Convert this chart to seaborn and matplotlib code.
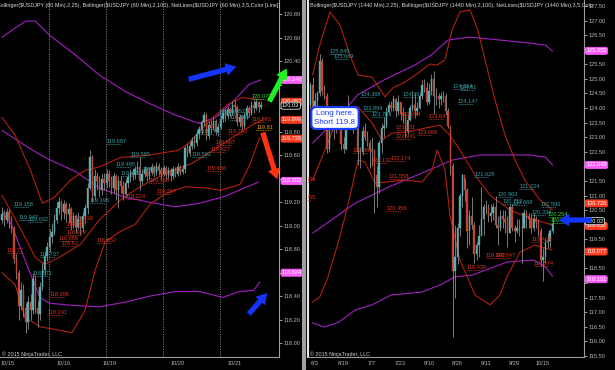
import numpy as np
import pandas as pd
import matplotlib
matplotlib.use("Agg")
import matplotlib.pyplot as plt
import seaborn as sns
from matplotlib.patches import FancyArrowPatch, Rectangle
from matplotlib.transforms import IdentityTransform

sns.set_theme(style="dark")
plt.rcParams['font.family'] = ['Liberation Sans', 'DejaVu Sans']

# ---------------- LEFT PANEL (60 min) ----------------
L_first_open = 119.05
L_close = [119.10,119.05,119.12,119.06,118.98,118.72,118.60,118.32,118.45,118.30,
           118.18,118.35,118.28,118.55,118.30,118.25,118.48,118.62,118.74,118.82,
           118.90,118.95,119.05,119.15,119.20,119.12,119.18,119.10,119.14,119.02,
           119.08,118.99,119.06,118.98,119.08,119.15,119.32,119.58,119.25,119.42,
           119.38,119.30,119.40,119.36,119.44,119.38,119.32,119.42,119.30,119.38,
           119.34,119.27,119.36,119.41,119.45,119.43,119.48,119.50,119.38,119.44,
           119.48,119.42,119.46,119.50,119.45,119.51,119.47,119.44,119.49,119.43,
           119.47,119.42,119.48,119.44,119.50,119.46,119.48,119.66,119.62,119.68,
           119.72,119.70,119.78,119.82,119.88,119.94,119.76,119.86,119.83,119.89,
           119.80,119.84,119.91,119.96,119.93,119.99,119.96,120.03,120.01,119.88,
           119.92,119.85,119.94,120.00,119.96,120.03,120.00,120.05,120.01,120.03]
L_high = [119.16,119.13,119.15,119.14,119.08,119.00,118.76,118.62,118.52,118.50,
          118.34,118.40,118.42,118.60,118.58,118.36,118.52,118.68,118.78,118.86,
          118.97,119.02,119.10,119.20,119.24,119.22,119.22,119.20,119.19,119.16,
          119.12,119.10,119.12,119.08,119.12,119.18,119.36,119.64,119.60,119.48,
          119.46,119.42,119.44,119.45,119.48,119.47,119.42,119.46,119.44,119.42,
          119.42,119.38,119.40,119.44,119.48,119.49,119.51,119.55,119.58,119.48,
          119.51,119.50,119.50,119.53,119.52,119.54,119.53,119.50,119.52,119.51,
          119.50,119.49,119.51,119.50,119.53,119.52,119.52,119.68,119.70,119.71,
          119.75,119.76,119.81,119.85,119.90,119.97,119.96,119.89,119.90,119.92,
          119.91,119.87,119.94,119.99,119.99,120.02,120.01,120.06,120.07,120.03,
          119.95,119.94,119.97,120.03,120.02,120.06,120.07,120.08,120.06,120.06]
L_low = [119.02,119.00,119.02,118.98,118.94,118.68,118.55,118.20,118.28,118.22,
         118.09,118.12,118.20,118.25,118.26,118.14,118.20,118.45,118.58,118.70,
         118.78,118.85,118.92,119.02,119.10,119.05,119.06,119.03,119.02,118.96,
         118.98,118.94,118.97,118.92,118.95,119.02,119.10,119.30,119.20,119.22,
         119.30,119.24,119.26,119.30,119.32,119.33,119.27,119.28,119.22,119.15,
         119.28,119.22,119.25,119.32,119.37,119.39,119.40,119.44,119.30,119.35,
         119.41,119.38,119.39,119.43,119.41,119.43,119.43,119.40,119.42,119.39,
         119.40,119.38,119.40,119.41,119.42,119.43,119.44,119.45,119.58,119.59,
         119.65,119.66,119.68,119.74,119.78,119.85,119.73,119.74,119.79,119.81,
         119.77,119.76,119.82,119.88,119.89,119.91,119.92,119.94,119.97,119.85,
         119.84,119.82,119.83,119.91,119.92,119.94,119.96,119.98,119.97,119.99]

# Bollinger(25) red, Bollinger(100) purple  -- (bar index, value)
L_red_up_x = [0,5.5,12,17,22,29,35,41,50,62,74,78,83,89,95,101,109]
L_red_up_y = [119.92,119.77,119.47,119.19,119.24,119.39,119.47,119.50,119.58,119.60,119.64,119.69,119.80,119.92,120.03,120.09,120.07]
L_red_mid_x = [0,7.6,14,18,24,33,41,50,58,69.5,80,90.5,97,105.7,109.9]
L_red_mid_y = [119.26,118.98,118.73,118.67,118.73,118.84,119.05,119.22,119.33,119.45,119.53,119.66,119.75,119.86,119.90]
L_red_lo_x = [0,5.5,9.7,16,24.4,29.5,35,39.2,43.4,49.7,56,62.3,68.6,77,86.3,91.8,100.2,104.4,107.4,108.6]
L_red_lo_y = [118.60,118.50,118.22,118.14,118.11,118.09,118.28,118.62,118.86,118.95,119.01,119.18,119.27,119.33,119.32,119.30,119.35,119.52,119.69,119.75]
L_pur_up_x = [0,4,10,14,20,31,41,52,62,73,83,90,98,104,109]
L_pur_up_y = [120.60,120.66,120.74,120.74,120.62,120.45,120.28,120.14,120.04,119.94,119.87,119.92,120.07,120.20,120.24]
L_pur_mid_x = [0,13,20,31,41,52,62,73,83,94,102,108]
L_pur_mid_y = [119.81,119.64,119.56,119.46,119.32,119.24,119.20,119.16,119.19,119.25,119.32,119.37]
L_pur_lo_x = [0,4,10,16,20,31,41,52,62,73,83,93,100,106,108.5]
L_pur_lo_y = [119.12,119.01,118.69,118.39,118.34,118.32,118.31,118.35,118.40,118.44,118.44,118.39,118.44,118.45,118.52]

L_session_lines = [19.8, 43.8, 67.8, 91.8]
L_xtick_pos = [2.4, 26, 45.5, 74, 98]
L_xtick_lab = ['10/15', '10/16', '10/19', '10/20', '10/21']

# NetLines labels (value, starting bar)
L_teal = [(119.697,44),(119.585,54),(119.495,48),(119.46,59),(119.422,50),(119.158,5),
          (119.047,7),(119.032,11),(118.737,16),(118.571,13),(119.196,37),(119.776,83),
          (119.582,80),(119.952,94),(119.937,91),(119.895,96)]
L_red = [(118.77,2),(119.038,30),(118.988,27),(118.923,27),(118.866,24),(118.83,25),
         (118.852,40),(118.396,20),(118.241,19),(119.224,52),(119.365,62),(119.267,65),
         (119.466,86),(119.687,90),(119.627,88),(119.783,95),(119.883,105)]
L_green = [(120.073,105)]
L_orange = [(119.81,107)]

L_tags = ['120.240','120.057','120.03','119.996','119.738','119.302','118.624']
L_tag_lvl = [120.24,120.054,120.02,119.90,119.74,119.38,118.60]
L_tag_col = ['#ff5cff','#ff3b1f','#000000','#ff3b1f','#ff3b1f','#ff5cff','#ff5cff']

# ---------------- RIGHT PANEL (1440 min) ----------------
R_dates = pd.bdate_range('2015-06-01', '2015-10-21')
R_first_open = 124.10
R_close = [124.80,124.00,124.25,124.50,125.60,124.60,124.40,122.60,123.45,123.35,
           123.40,123.40,123.75,122.75,122.60,123.90,123.80,123.70,123.80,123.90,
           122.50,122.50,123.20,123.00,122.80,122.55,122.55,121.70,121.30,122.80,
           123.30,123.40,123.85,124.10,124.00,124.30,123.90,124.20,123.80,123.80,
           123.20,123.60,124.00,124.10,123.90,124.00,124.40,124.80,124.70,124.20,
           124.60,125.00,124.40,124.40,124.30,124.40,124.40,123.90,123.40,122.00,
           118.40,118.90,119.90,121.00,121.70,121.20,119.80,120.30,120.00,119.00,
           119.30,119.60,120.20,120.60,120.60,120.30,120.40,120.60,120.00,119.90,
           120.30,120.20,120.10,119.70,120.60,119.90,119.80,119.90,119.90,119.90,
           120.40,120.30,120.20,119.90,120.20,120.10,119.80,118.80,118.90,119.40,
           119.45,119.80,120.03]
R_high = [124.90,125.05,124.50,124.60,125.86,125.70,124.80,124.50,123.80,123.70,
          123.55,123.70,124.05,123.80,123.00,124.05,124.45,124.00,123.90,124.00,
          123.95,122.65,123.40,123.50,123.20,122.90,123.00,122.60,122.00,122.90,
          123.50,123.70,124.05,124.20,124.25,124.45,124.35,124.45,124.20,124.05,
          123.85,123.75,124.10,124.60,124.50,124.20,124.50,124.95,125.00,124.90,
          124.85,125.15,125.28,124.70,124.50,124.55,124.60,124.50,124.00,123.40,
          122.10,120.00,120.05,121.10,121.75,121.60,121.25,120.50,120.95,120.10,
          119.40,120.00,121.30,120.70,120.85,120.70,120.70,120.75,121.00,120.30,
          120.50,120.50,120.50,120.30,120.70,120.70,120.00,120.20,120.20,120.45,
          120.55,120.50,120.40,120.40,120.40,120.30,120.20,119.90,119.20,119.50,
          119.70,119.85,120.25]
R_low = [124.00,123.75,123.85,123.95,124.40,124.45,124.30,122.45,122.50,123.20,
         122.95,123.15,123.30,122.55,122.45,122.55,123.60,123.40,123.15,123.45,
         122.05,121.95,122.40,122.90,122.70,121.95,122.00,120.41,120.60,121.10,
         122.45,123.00,123.30,123.80,123.90,123.90,123.70,123.75,123.60,123.50,
         123.00,123.10,123.55,123.90,123.65,123.75,123.95,124.30,124.55,124.10,
         124.15,124.45,123.80,124.10,124.00,124.10,124.20,123.75,123.30,121.70,
         116.15,117.50,118.65,119.60,120.60,120.80,119.20,119.30,119.85,118.70,
         118.80,118.90,119.80,119.65,120.35,120.10,120.10,120.15,119.90,119.30,
         119.80,119.90,119.70,119.25,119.70,119.80,119.40,119.70,119.60,118.70,
         119.90,119.90,119.90,119.70,119.80,119.90,119.60,118.60,118.07,118.70,
         119.20,119.20,119.70]

R_red_up_x = [1,4,8.3,12.5,16.7,20.1,26,31.5,34.8,39.9,45.4,50.4,53.4,56.7,59.7,63,67.3,70.6,73.6,77.8,82,86.2,90.4,96.7,102]
R_red_up_y = [125.13,126.16,127.29,126.85,125.82,125.13,125.06,124.38,124.69,124.89,125.20,125.51,125.47,125.65,126.67,127.29,127.36,126.67,125.65,124.27,123.07,122.22,121.53,120.85,120.50]
R_red_mid_x = [1,6.2,11.7,20.1,26,30.2,34.4,41.2,48.3,54.6,58.8,63,69.4,75.7,84.1,92.5,101.8]
R_red_mid_y = [121.53,122.56,123.69,124.04,123.49,122.90,123.14,123.18,123.31,123.41,123.07,122.56,121.70,121.01,120.50,120.23,119.99]
R_red_lo_x = [1,4,7.5,11.7,14.6,17.6,20.1,23,27.3,31.5,39.9,47,51.3,53.4,56.7,58.8,63,69.4,75.7,79.9,82.8,88.3,94.6,101.8]
R_red_lo_y = [117.35,117.52,118.21,119.37,120.26,121.29,122.22,122.15,121.43,121.46,121.53,121.46,121.87,122.56,121.90,120.33,118.79,117.59,117.25,117.59,118.21,119.06,119.30,119.13]
R_pur_up_x = [1,12,20,31,44,51,58,67,80,92,99,102]
R_pur_up_y = [122.80,123.69,124.45,124.96,125.47,125.82,126.33,126.43,126.33,126.23,126.16,125.95]
R_pur_mid_x = [1,19,33,47,60,71.5,82,92.5,99,102]
R_pur_mid_y = [119.71,120.74,121.29,121.77,122.22,122.39,122.39,122.39,122.32,122.05]
R_pur_lo_x = [1,6,12,19,26,34,47,54.6,61,68.5,82.9,94,99,102]
R_pur_lo_y = [116.63,116.49,116.66,117.08,117.25,117.59,117.69,117.93,118.21,118.28,118.72,118.79,118.55,118.24]

R_xtick_dates = ['2015-06-03','2015-06-19','2015-07-07','2015-07-23','2015-08-10',
                 '2015-08-26','2015-09-11','2015-09-29','2015-10-15']
R_xtick_lab = ['6/3','6/19','7/7','7/23','8/10','8/26','9/11','9/29','10/15']

R_teal = [(125.845,8),(125.689,10),(124.368,21),(123.899,22),(123.703,26),(124.367,39),
          (124.654,60),(124.610,63),(124.147,62),(121.628,69),(121.224,88),(120.963,79),
          (120.712,81),(120.668,85),(120.596,97),(120.338,93)]
R_red = [(123.694,38),(123.64,50),(123.231,36),(122.941,36),(123.066,45),(122.466,18),
         (122.174,34),(122.132,26),(121.558,33),(120.456,32),(119.404,93),(118.842,74),
         (118.847,78),(118.439,66),(118.574,94),(121.466,-6),(120.855,-6)]
R_green = [(120.254,100),(120.069,101)]

R_tags = ['125.955','122.048','120.726','119.952','120.02','119.077','118.131']
R_tag_lvl = [125.96,122.05,120.73,119.96,120.12,119.08,118.13]
R_tag_col = ['#ff5cff','#ff5cff','#ff3b1f','#ff3b1f','#000000','#ff3b1f','#ff5cff']

# ---------------- drawing ----------------
W, H = 615, 370
fig = plt.figure(figsize=(W/100, H/100), dpi=100, facecolor='black')

UP = '#58b0b4'
DN = '#c2452f'
WICK = '#8c8c8c'
RED = '#b3200f'
PUR = '#a31fc0'
TEAL = '#3a9fa3'
LRED = '#d9361f'
GRN = '#2fe02f'
GRAY = '#b8b8b8'
FS = 4.1


def add_ax(x0, x1, y0, y1):
    return fig.add_axes([x0 / W, 1 - y1 / H, (x1 - x0) / W, (y1 - y0) / H])


def candles(ax, first_open, c, h, l, width=0.62):
    c = np.asarray(c); h = np.asarray(h); l = np.asarray(l)
    o = np.concatenate([[first_open], c[:-1]])
    x = np.arange(len(c))
    ax.vlines(x, l, h, color=WICK, lw=0.6, zorder=3)
    up = c >= o
    hgt = np.abs(c - o)
    bot = np.minimum(c, o)
    ax.bar(x[up], hgt[up], bottom=bot[up], width=width, color=UP, edgecolor=UP, lw=0.3, zorder=4)
    ax.bar(x[~up], hgt[~up], bottom=bot[~up], width=width, color=DN, edgecolor=DN, lw=0.3, zorder=4)


def band(ax, xs, ys, color):
    df = pd.DataFrame({'x': xs, 'y': ys})
    sns.lineplot(data=df, x='x', y='y', ax=ax, color=color, lw=0.8, legend=False,
                 sort=False, estimator=None, zorder=2)


def netlabels(ax, items, color, span):
    for val, i in items:
        ax.plot([i, i + span], [val, val], color=color, lw=0.6, ls=(0, (1, 1)), zorder=5)
        txt = f'{val:g}' if len(f'{val:g}') > 5 else f'{val:.2f}'
        ax.text(i, val, txt, color=color, fontsize=FS, ha='left', va='bottom',
                zorder=6, clip_on=True)


def style(ax, xlim, ylim, yticks, xpos, xlab, tag_lvls, hide_tol):
    ax.set_facecolor('black')
    ax.set_xlim(*xlim)
    ax.set_ylim(*ylim)
    ax.yaxis.tick_right()
    ax.set_yticks(yticks)
    labs = []
    for v in yticks:
        hidden = any(abs(v - t) < hide_tol for t in tag_lvls)
        labs.append('' if hidden else f'{v:.2f}')
    ax.set_yticklabels(labs)
    ax.set_xticks(xpos)
    ax.set_xticklabels(xlab)
    ax.tick_params(axis='both', colors=GRAY, labelsize=FS, length=2, width=0.6, pad=1)
    ax.set_xlabel(''); ax.set_ylabel('')
    ax.grid(False)
    for s in ['top', 'left']:
        ax.spines[s].set_visible(False)
    for s in ['right', 'bottom']:
        ax.spines[s].set_color('#9a9a9a')
        ax.spines[s].set_linewidth(0.8)


def tags(ax, xa, texts, lvls, cols):
    tr = ax.get_yaxis_transform()
    for k, (t, v, c) in enumerate(zip(texts, lvls, cols)):
        ec = '#e0e0e0' if c == '#000000' else c
        ax.text(xa, v, t, transform=tr, fontsize=FS, color='white', ha='left', va='center',
                clip_on=False, zorder=10 + k,
                bbox=dict(boxstyle='round,pad=0.18,rounding_size=0.3', fc=c, ec=ec, lw=0.6))


# left
axL = add_ax(0, 279, 0, 357)
for xv in L_session_lines:
    axL.axvline(xv, color='#8a8a8a', lw=0.6, ls=(0, (1.5, 1.5)), zorder=1)
band(axL, L_pur_up_x, L_pur_up_y, PUR)
band(axL, L_pur_mid_x, L_pur_mid_y, PUR)
band(axL, L_pur_lo_x, L_pur_lo_y, PUR)
band(axL, L_red_up_x, L_red_up_y, RED)
band(axL, L_red_mid_x, L_red_mid_y, RED)
band(axL, L_red_lo_x, L_red_lo_y, RED)
candles(axL, L_first_open, L_close, L_high, L_low)
netlabels(axL, L_teal, TEAL, 6.3)
netlabels(axL, L_red, LRED, 6.3)
netlabels(axL, L_green, GRN, 6.3)
netlabels(axL, L_orange, '#f0a020', 6.3)
style(axL, (-0.842, 116.63), (117.883, 120.919), np.round(np.arange(118.0, 120.81, 0.2), 2),
      L_xtick_pos, L_xtick_lab, L_tag_lvl, 0.045)
tags(axL, 1.011, L_tags, L_tag_lvl, L_tag_col)

# right
axR = add_ax(308, 584, 0, 357)
band(axR, R_pur_up_x, R_pur_up_y, PUR)
band(axR, R_pur_mid_x, R_pur_mid_y, PUR)
band(axR, R_pur_lo_x, R_pur_lo_y, PUR)
band(axR, R_red_up_x, R_red_up_y, RED)
band(axR, R_red_mid_x, R_red_mid_y, RED)
band(axR, R_red_lo_x, R_red_lo_y, RED)
candles(axR, R_first_open, R_close, R_high, R_low)
netlabels(axR, R_teal, TEAL, 6.4)
netlabels(axR, R_red, LRED, 6.4)
netlabels(axR, R_green, GRN, 6.4)
rpos = [R_dates.get_loc(pd.Timestamp(d)) for d in R_xtick_dates]
style(axR, (-0.947, 115.26), (115.464, 127.703), np.arange(115.5, 127.51, 0.5), rpos,
      R_xtick_lab, R_tag_lvl, 0.17)
axR.set_xticks(np.arange(0, 105), minor=True)
axR.tick_params(axis='x', which='minor', colors=GRAY, length=1.5, width=0.5)
axR.spines['left'].set_visible(True)
axR.spines['left'].set_color('#e8e8e8')
axR.spines['left'].set_linewidth(1.5)
tags(axR, 1.008, R_tags, R_tag_lvl, R_tag_col)

# separator between the two charts
fig.patches.append(Rectangle((302 / W, 0), 4 / W, 1, transform=fig.transFigure,
                             fc='#a0a0a0', ec='none'))

# headers
pix = IdentityTransform()
fig.text(-3, H - 6, 'Bollinger($USDJPY (60 Min),2,25), Bollinger($USDJPY (60 Min),2,100), '
         'NetLines($USDJPY (60 Min),3,5,Color [Line])', transform=pix, fontsize=3.9,
         color='#d8d8d8', va='center', ha='left')
fig.text(310, H - 6, 'Bollinger($USDJPY (1440 Min),2,25), Bollinger($USDJPY (1440 Min),2,100), '
         'NetLines($USDJPY (1440 Min),3,5,Colo', transform=pix, fontsize=3.9,
         color='#d8d8d8', va='center', ha='left')
fig.text(2, H - 354, '\u00a9 2015 NinjaTrader, LLC', transform=pix, fontsize=3.9,
         color='#cfcfcf', va='center', ha='left')
fig.text(310, H - 354, '\u00a9 2015 NinjaTrader, LLC', transform=pix, fontsize=3.9,
         color='#cfcfcf', va='center', ha='left')

# annotation box
fig.text(335, H - 118, 'Long here.\nShort 119.8', transform=pix, fontsize=5.8, color='#1436ff',
         ha='center', va='center', linespacing=1.3,
         bbox=dict(boxstyle='round,pad=0.4,rounding_size=0.6', fc='white', ec='#1a3cff', lw=1.6))

# arrows (figure pixels)
def arrow(x1, y1, x2, y2, color):
    p = FancyArrowPatch((x1, H - y1), (x2, H - y2), transform=pix,
                        arrowstyle='simple,head_width=2.3,head_length=1.9,tail_width=0.95',
                        mutation_scale=4, color=color, lw=0, zorder=20)
    fig.add_artist(p)

arrow(186, 80, 239, 66, '#1435ff')
arrow(268, 104, 288, 66, '#22f022')
arrow(262, 130, 278, 182, '#ff3410')
arrow(247, 316, 269, 291, '#1435ff')
arrow(594, 220, 556, 220, '#1435ff')

fig.savefig('out.png', dpi=100, facecolor='black')
